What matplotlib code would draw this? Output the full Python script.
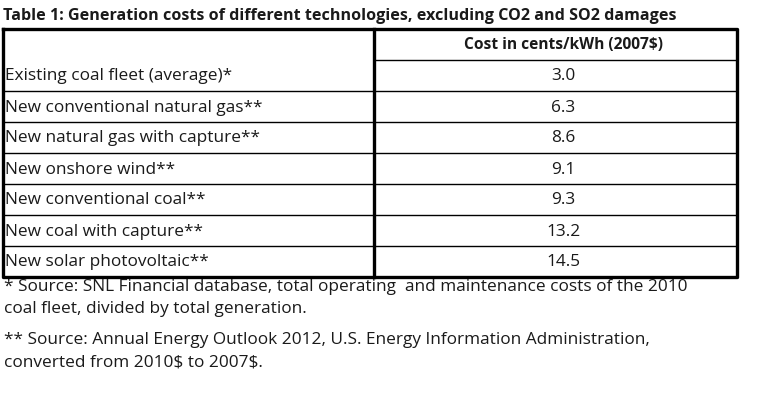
import matplotlib.pyplot as plt

title = "Table 1: Generation costs of different technologies, excluding CO2 and SO2 damages"
header = "Cost in cents/kWh (2007$)"
techs = ["Existing coal fleet (average)*", "New conventional natural gas**",
         "New natural gas with capture**", "New onshore wind**",
         "New conventional coal**", "New coal with capture**",
         "New solar photovoltaic**"]
costs = [3.0, 6.3, 8.6, 9.1, 9.3, 13.2, 14.5]
notes = ["* Source: SNL Financial database, total operating  and maintenance costs of the 2010",
         "coal fleet, divided by total generation.",
         "** Source: Annual Energy Outlook 2012, U.S. Energy Information Administration,",
         "converted from 2010$ to 2007$."]

plt.rcParams['font.family'] = ['Open Sans', 'DejaVu Sans']
plt.rcParams['text.parse_math'] = False
fig = plt.figure(figsize=(7.68, 4.09), dpi=100)
ax = fig.add_axes([0, 0, 1, 1])
ax.set_xlim(0, 768)
ax.set_ylim(409, 0)
ax.axis("off")

TC = "#1a1a1a"
L, M, R = 3, 374, 737
top, hdr, rh = 29, 60, 31
bottom = hdr + rh * len(techs)
FS = 12.4

ax.text(3, 16, title, fontsize=11.6, fontweight="bold", color=TC, va="center")
ax.text((M + R) / 2 + 8, 45, header, fontsize=11.2, fontweight="bold", color=TC,
        ha="center", va="center")

# grid
ax.plot([L, R, R, L, L], [top, top, bottom, bottom, top], color="k", lw=2.4)
ax.plot([M, M], [top, bottom], color="k", lw=2.4)
ax.plot([M, R], [hdr, hdr], color="k", lw=1.0)
for i in range(1, len(techs)):
    y = hdr + rh * i
    ax.plot([L, R], [y, y], color="k", lw=1.0)

for i, (t, c) in enumerate(zip(techs, costs)):
    yc = hdr + rh * i + rh / 2 + 1
    ax.text(5, yc, t, fontsize=FS, color=TC, va="center")
    ax.text((M + R) / 2 + 8, yc, f"{c:.1f}", fontsize=FS, color=TC,
            ha="center", va="center")

for y, n in zip([287, 309, 340, 362], notes):
    ax.text(4, y, n, fontsize=FS, color=TC, va="center")

fig.savefig("out.png", dpi=100, facecolor="white")
